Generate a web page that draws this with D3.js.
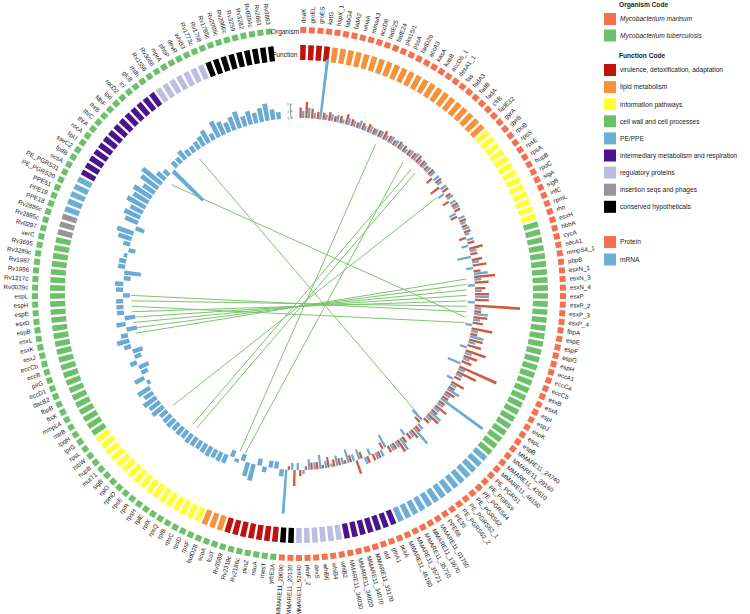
<!DOCTYPE html>
<html><head><meta charset="utf-8">
<script src="https://cdn.jsdelivr.net/npm/d3@7"></script>
<style>body{margin:0;background:#fff;} svg text{font-family:"Liberation Sans",Arial,sans-serif;}</style>
</head><body><svg id="c" width="750" height="614"></svg>
<script>
// ---------- DATA ----------
const genes = [
"dnaK","groEL","groES","katG",
"hspX_1","fabG4","fadA2","umaA","mmaA3","accD6","fadE25","fadE24","pks15/1","pssA","fadD26","accA3","kasA","kasB","accD6_1","desA1_1","fas","fadA3","fadB","fadA","cfrB","fadE32",
"gyrA","gyrB","rpoB","rpsS","rpsE","rpsA","hupB","rpoC","sigA","sigB","infC","rpmL","rho",
"esxH","hbhA","cycA","secA1","mmpS4_1","pbpB","esxN_1","esxN_3","esxN_4","esxP","esxP_2","esxP_3","esxP_4","fbpA","espE","espF","espG","espH","eccA1","eccCa","eccCb","esxB","esxA","espI","espJ","espK","espL","espB","MMARE11_24740","MMARE11_29160","MMARE11_42610",
"MMARE11_46150","PE_PGRS1","PE_PGRS9","PE_PGRS44","PE_PGRS62","PE_PGRS62_1","PE_PGRS62_2","PE35","PPE68","MMARE11_01750","MMARE11_13670","MMARE11_35710","MMARE11_35721","MMARE11_46160",
"pckA","glnA1","ald","MMARE11_33170","MMARE11_34070","MMARE11_34020","MMARE11_34030",
"whiB2","whiB4","whiB6","devS","pknF_2","MMARE11_52640",
"MMARE11_20130","MMARE11_28090",
"yrbE3A","mesT","nsuA","pknZ","Rv2186c","Rv2319c","Rv3589",
"fcoT","scoA","fadD28",
"rpsF","rpsD","rpsC","rplB","rpsQ","rplX","rplE","rpsH","rplR","rpsE","rpmD","rplO","sigB","mutT1","hupB","rsbW","rpsL",
"lprG","lpqH","mtrB","mmpL4","ftsK","fbpB","dacB2","eccD1","pirG","eccB","eccCb","esxJ","esxK","esxL","espB","esxD","espE","espH","espL","Rv0039c","Rv1217c","Rv1986","Rv1987","Rv3289c","Rv3695","xerC",
"Rv0297","Rv2885c","Rv2886c",
"PPE18","PPE19","PPE51","PE_PGRS20","PE_PGRS31",
"ocsA","fpdB","sseC2","lipU","rocA","thrA","thrC","thrB","fdhF","lpd","rocD2","icl","glcB","mdh",
"Rv1556","Rv3066","mprA","phoP","devR","whiB3","Rv1773c",
"Rv1758","Rv1785c","Rv2095c","Rv2966c","Rv3259","Rv3282","Rv0394c","Rv2861","Rv3863"
];
const organismCodes = [
"M","M","M","M","M","M","M","M","M","M","M","M","M","M","M","M","M","M","M","M","M","M","M","M","M","M",
"M","M","M","M","M","M","M","M","M","M","M","M","M",
"M","M","M","M","M","M","M","M","M","M","M","M","M","M","M","M","M","M","M","M","M","M","M","M","M","M","M","M","M","M","M",
"M","M","M","M","M","M","M","M","M","M","M","M","M","M",
"M","M","M","M","M","M","M",
"M","M","M","M","M","M",
"M","M",
"T","T","T","T","T","T","T",
"T","T","T",
"T","T","T","T","T","T","T","T","T","T","T","T","T","T","T","T","T",
"T","T","T","T","T","T","T","T","T","T","T","T","T","T","T","T","T","T","T","T","T","T","T","T","T","T",
"T","T","T",
"T","T","T","T","T",
"T","T","T","T","T","T","T","T","T","T","T","T","T","T",
"T","T","T","T","T","T","T",
"T","T","T","T","T","T","T","T","T"
];
const functionCodes = [
"V","V","V","V",
"L","L","L","L","L","L","L","L","L","L","L","L","L","L","L","L","L","L","L","L","L","L",
"I","I","I","I","I","I","I","I","I","I","I","I","I",
"C","C","C","C","C","C","C","C","C","C","C","C","C","C","C","C","C","C","C","C","C","C","C","C","C","C","C","C","C","C","C",
"P","P","P","P","P","P","P","P","P","P","P","P","P","P",
"M","M","M","M","M","M","M",
"R","R","R","R","R","R",
"H","H",
"V","V","V","V","V","V","V",
"L","L","L",
"I","I","I","I","I","I","I","I","I","I","I","I","I","I","I","I","I",
"C","C","C","C","C","C","C","C","C","C","C","C","C","C","C","C","C","C","C","C","C","C","C","C","C","C",
"S","S","S",
"P","P","P","P","P",
"M","M","M","M","M","M","M","M","M","M","M","M","M","M",
"R","R","R","R","R","R","R",
"H","H","H","H","H","H","H","H","H"
];
const proteinValues = [
1.5,2.3,1.4,1,
1,1.2,0.8,1,1.5,1,0.8,1,1.2,0.9,1,1.3,1,0.8,1.1,1,0.9,1,1.2,1,0.8,1,
-1,1,-1.5,1,0.8,-1,1,0.9,-1,1,0.8,1,-1,
1,2,1,1.5,2,1,3,2,1.5,2,2,6.5,1,2,1.5,3,1,2,2,3,2,1.5,5.8,3,1,2,1,1.5,1,1,2,
1,2,1,-1,1,1.5,1,1,2,1,1,-1,1,1,
1,-1,2,-1,-0.5,-1,-1,
-1.5,-0.5,-1,-1,-0.5,0.9,
2.3,-0.5,
null,null,null,null,null,null,null,null,null,null,null,null,null,null,null,null,null,null,null,null,null,null,null,null,null,null,null,null,null,null,null,null,null,null,null,null,null,null,null,null,null,null,null,null,null,null,null,null,null,null,null,null,null,null,null,null,null,null,null,null,null,null,null,null,null,null,null,null,null,null,null,null,null,null,null,null,null,null,null,null,null,null,null,null,null,null,null,null,null,null,null
];
const mrnaValues = [
1,1.5,0.8,8.6,
0.8,1,1,0.6,1,0.8,1.2,0.7,1,0.9,1,0.8,1.1,1,0.9,0.7,1,1.2,0.8,1,0.9,1,
1,0.8,1,-1,1,0.9,1,-1,1,0.8,1,0.7,1,
-1,1,-2,1,-1,2,1,-1,1,2,-1,1,2,1,-1,1,2,1,-1,1,1,-2,1,1,-1,1,2,1,7.4,1,1,
2,1,-2,1,3,1,-1,2,1,1,-2,1,1,-1,
1,-1.5,-1,-2,-1,-1.5,-0.5,
-1,-2,-1,-1.5,0.6,-1,
-1,6.3,
1,-1,-1,0.8,-1,2.4,2,
-1,0.5,-1,
1.3,1.4,1.3,1.5,1.4,1.3,1.4,1.5,1.3,1.4,1.3,1.5,1.4,1.3,2,1.8,2.2,
1.5,2,-0.5,1.5,-1,-1.5,1,-1,-1.5,1,1.8,1,-1.5,1.3,-1.5,1,1,1,-1,1,1.2,-1,-2.4,1,1,0.5,
-1,1,2,
2.5,-1.3,2,2.5,2,
3,2.5,3,2,3,3.5,1.5,1,-6,1,1,1.5,1,1,
1.2,1.5,2,1,2.5,2,1.5,
2,2.5,1.5,2,1.5,2,2.5,1.5,1
];
// orthologue links: [M. marinum gene, M. tuberculosis gene]
const links = [
["fadD26","scoA"],["fas","fcoT"],["fadB","rplR"],["fadA","rpsH"],["rpsS","mutT1"],["PE_PGRS9","mdh"],["fbpA","thrC"],
["esxN_1","esxJ"],["esxN_3","esxK"],["esxN_4","esxL"],["esxP","espB"],["esxP_2","esxD"],["espE","espE"],["esxP_3","espH"],["esxP_4","espL"]
];
const axisTicks = [0, 1, 2];
const orgLegend = [["Mycobacterium marinum","#f4714f"],["Mycobacterium tuberculosis","#6cc06a"]];
const funcLegend = [
["V","virulence, detoxification, adaptation","#c0120c"],
["L","lipid metabolism","#f7923a"],
["I","information pathways","#ffff33"],
["C","cell wall and cell processes","#6cc06a"],
["P","PE/PPE","#6baed6"],
["M","intermediary metabolism and respiration","#4a148c"],
["R","regulatory proteins","#bcbde0"],
["S","insertion seqs and phages","#969696"],
["H","conserved hypotheticals","#000000"]
];
const exprLegend = [["Protein","#f4714f"],["mRNA","#6baed6"]];

// ---------- DRAW ----------
const svg = d3.select("#c");
const cx = 299, cy = 294;
const N = genes.length, GAP = 3;
const step = 2*Math.PI/(N+GAP);
const ang = d3.scaleLinear().domain([0, N]).range([0, N*step]);
const g = svg.append("g").attr("transform",`translate(${cx},${cy})`);
const orgColor = {M:"#f4714f", T:"#6cc06a"};
const funcColor = Object.fromEntries(funcLegend.map(d=>[d[0],d[2]]));
const deg = a => a*180/Math.PI;

g.selectAll("rect.org").data(genes).join("rect").attr("class","org")
 .attr("x",-3).attr("y",-267).attr("width",6).attr("height",6)
 .attr("fill",(d,i)=>orgColor[organismCodes[i]])
 .attr("transform",(d,i)=>`rotate(${deg(ang(i+0.5))})`);

const farc = d3.arc().innerRadius(234).outerRadius(249);
g.selectAll("path.fn").data(genes).join("path").attr("class","fn")
 .attr("d",(d,i)=>farc({startAngle:ang(i+0.15),endAngle:ang(i+0.85)}))
 .attr("fill",(d,i)=>funcColor[functionCodes[i]]);

g.selectAll("text.gl").data(genes).join("text").attr("class","gl")
 .attr("font-size",6.2).attr("fill","#222").attr("dy","0.35em")
 .attr("transform",(d,i)=>{const a=deg(ang(i+0.5)); return a<180?`rotate(${a-90}) translate(271,0)`:`rotate(${a+90}) translate(-271,0)`;})
 .attr("text-anchor",(d,i)=>deg(ang(i+0.5))<180?"start":"end")
 .text(d=>d);

g.append("text").attr("x",-14).attr("y",-262).attr("dy","0.35em").attr("text-anchor","middle").attr("font-size",6.5).attr("fill","#222").text("Organism");
g.append("text").attr("x",-14).attr("y",-239).attr("dy","0.35em").attr("text-anchor","middle").attr("font-size",6.5).attr("fill","#222").text("Function");

// links (drawn beneath bars)
const idxM = name => genes.findIndex((d,i)=>d===name && organismCodes[i]==="M");
const idxT = name => genes.findIndex((d,i)=>d===name && organismCodes[i]==="T");
const RL = 168;
const linkG = g.append("g");
links.forEach(([a,b])=>{
  const i=idxM(a), j=idxT(b); if(i<0||j<0) return;
  const t1=ang(i+0.5), t2=ang(j+0.5);
  linkG.append("line").attr("x1",RL*Math.sin(t1)).attr("y1",-RL*Math.cos(t1))
   .attr("x2",RL*Math.sin(t2)).attr("y2",-RL*Math.cos(t2))
   .attr("stroke","#7cc56e").attr("stroke-width",1);
});

const R0 = 176;
const rv = d3.scaleLinear().domain([0,1]).range([R0, R0+7]);
const barArc = d3.arc();
function bar(i, v, a0, a1){ return barArc({innerRadius:Math.min(rv(0),rv(v)), outerRadius:Math.max(rv(0),rv(v)), startAngle:ang(i+a0), endAngle:ang(i+a1)}); }
genes.forEach((d,i)=>{
  const p = proteinValues[i], m = mrnaValues[i];
  if(p!==null){
    g.append("path").attr("d",bar(i,p,0.08,0.48)).attr("fill","#cf5a40");
    g.append("path").attr("d",bar(i,m,0.52,0.92)).attr("fill","#6aaad4");
  } else {
    g.append("path").attr("d",bar(i,m,0.12,0.88)).attr("fill","#6aaad4");
  }
});

const axA = -1.4*step;
const ax = g.append("g").attr("transform",`rotate(${deg(axA)})`);
ax.append("line").attr("x1",0).attr("x2",0).attr("y1",-rv(0)).attr("y2",-rv(axisTicks[axisTicks.length-1])).attr("stroke","#444").attr("stroke-width",0.6);
axisTicks.forEach(t=>{
  ax.append("line").attr("x1",0).attr("x2",2).attr("y1",-rv(t)).attr("y2",-rv(t)).attr("stroke","#444").attr("stroke-width",0.6);
  ax.append("text").attr("x",-1.5).attr("y",-rv(t)).attr("dy","0.35em").attr("text-anchor","end").attr("font-size",3.5).attr("fill","#444").text(t);
});

const L = svg.append("g").attr("font-size",6.6).attr("fill","#222");
L.append("text").attr("x",619).attr("y",5).attr("dy","0.35em").attr("font-weight","bold").text("Organism Code");
orgLegend.forEach((d,k)=>{const yy=19+k*16.5;
  L.append("rect").attr("x",604).attr("y",yy-6).attr("width",12).attr("height",12).attr("fill",d[1]);
  L.append("text").attr("x",620).attr("y",yy).attr("dy","0.35em").attr("font-style","italic").text(d[0]);});
L.append("text").attr("x",619).attr("y",56).attr("dy","0.35em").attr("font-weight","bold").text("Function Code");
funcLegend.forEach((d,k)=>{const yy=70+k*17.1;
  L.append("rect").attr("x",604).attr("y",yy-6).attr("width",12).attr("height",12).attr("fill",d[2]);
  L.append("text").attr("x",620).attr("y",yy).attr("dy","0.35em").text(d[1]);});
exprLegend.forEach((d,k)=>{const yy=242+k*17.5;
  L.append("rect").attr("x",604).attr("y",yy-6).attr("width",12).attr("height",12).attr("fill",d[1]);
  L.append("text").attr("x",620).attr("y",yy).attr("dy","0.35em").text(d[0]);});
</script></body></html>
